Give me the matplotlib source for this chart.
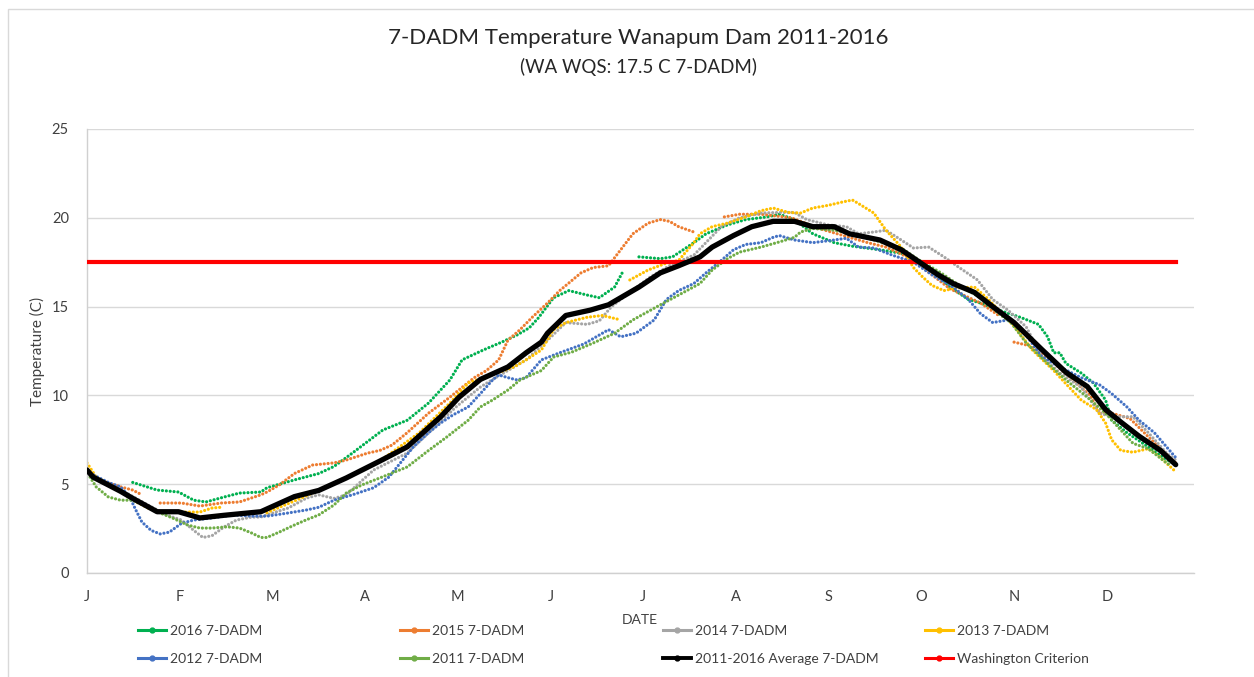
import numpy as np
import matplotlib
matplotlib.use("Agg")
import matplotlib.pyplot as plt
from matplotlib.lines import Line2D
from matplotlib.patches import Rectangle

nan = np.nan

# ---------------- data (day of year, 7-DADM temperature in C) ----------------
months = ['J', 'F', 'M', 'A', 'M', 'J', 'J', 'A', 'S', 'O', 'N', 'D']

d2016 = [15, 23, 30, 35, 39, 45, 50, 57, 59, 68, 76, 81, 87, 94, 97, 105, 112, 119, 123, 130, 136, 141, 145, 148,
         153, 158, 164, 168, 173, 176, nan, 181, 188, 192, 199, 203, 210, 216, 223, 227, 232, 238, 245, 251, 260,
         267, 273, 277, 283, 289, 293, 299, 306, 312, 315, 317, 319, 321, 326, 330, 334, 336, 341, 348, 353, 356]
v2016 = [5.1, 4.67, 4.56, 4.1, 4.0, 4.28, 4.5, 4.56, 4.8, 5.24, 5.6, 6.0, 6.75, 7.66, 8.05, 8.6, 9.57, 10.87, 12.0,
         12.56, 13.0, 13.4, 13.8, 14.36, 15.5, 15.9, 15.65, 15.5, 16.1, 17.06, nan, 17.8, 17.7, 17.8, 18.6, 19.1,
         19.6, 19.9, 20.05, 20.2, 19.9, 19.1, 18.6, 18.4, 18.2, 18.0, 17.6, 17.06, 16.1, 15.4, 15.2, 14.8, 14.4,
         14.0, 13.3, 12.4, 12.4, 11.8, 11.26, 10.7, 9.74, 8.6, 7.9, 7.1, 6.5, 6.2]

d2015 = [0, 4, 11, 15, 18, nan, 24, 31, 37, 44, 50, 57, 59, 63, 68, 74, 81, 85, 92, 96, 100, 105, 112, 119, 127,
         131, 135, 138, 142, 146, 151, 155, 162, 166, 171, 175, 179, 184, 188, 191, 194, 199, nan, 209, 214, 221,
         231, 240, 250, 256, 262, 269, 274, 283, 293, 299, nan, 304, 309, 316, 321, 329, 332, 336, 342, 349, 357]
v2015 = [5.8, 5.24, 4.85, 4.67, 4.4, nan, 3.94, 3.94, 3.77, 3.94, 4.0, 4.4, 4.56, 4.95, 5.6, 6.08, 6.2, 6.36, 6.75,
         6.9, 7.2, 7.9, 9.0, 9.9, 11.0, 11.4, 12.0, 13.1, 13.7, 14.4, 15.2, 15.9, 16.9, 17.2, 17.3, 18.2, 19.1,
         19.7, 19.9, 19.8, 19.5, 19.2, nan, 20.05, 20.2, 20.2, 20.0, 19.4, 18.9, 18.6, 18.35, 17.8, 17.2, 16.0,
         15.2, 14.5, nan, 13.0, 12.8, 12.0, 11.2, 10.0, 9.0, 9.0, 8.7, 7.5, 6.2]

d2014 = [0, 7, 13, 20, 26, 31, 35, 38, 41, 45, 49, 54, 57, 59, 66, 72, 76, 81, 85, 94, 105, 113, 121, 129, 134,
         144, 151, 157, 164, 168, 172, 178, 185, 191, 199, 208, 214, 221, 227, 232, 236, 243, 249, 253, 258, 262,
         267, 271, 276, 281, 286, 292, 297, 302, 308, 313, 319, 326, 332, 336, 343, 348, 354, 357]
v2014 = [5.6, 5.07, 4.5, 3.83, 3.27, 2.98, 2.4, 2.0, 2.1, 2.6, 2.98, 3.15, 3.15, 3.27, 3.66, 4.22, 4.4, 4.2, 4.4,
         5.8, 6.75, 8.05, 9.35, 10.47, 11.0, 12.0, 13.1, 14.1, 14.0, 14.2, 15.0, 15.8, 16.7, 17.3, 17.9, 19.5,
         20.0, 20.27, 20.3, 20.3, 19.9, 19.6, 19.5, 19.1, 19.2, 19.3, 18.75, 18.3, 18.35, 17.8, 17.2, 16.5, 15.4,
         14.8, 13.85, 12.2, 11.26, 10.47, 9.0, 8.8, 8.8, 7.9, 6.75, 6.36]

d2013 = [0, 3, 9, 15, 20, 24, 31, 37, 41, 44, nan, 59, 70, 83, 96, 109, 119, 125, 130, 135, 140, 144, 149, 153,
         157, 164, 169, 175, nan, 178, 184, 190, 194, 199, 201, 205, 210, 216, 221, 225, 230, 234, 238, 243, 248,
         251, 253, 258, 262, 267, 271, 274, 277, 281, 285, 291, 295, 299, 304, 310, 317, 322, 326, 331, 334, 336,
         339, 343, 348, 352, 357]
v2013 = [6.2, 5.4, 4.85, 4.1, 3.66, 3.38, 3.43, 3.43, 3.66, 3.7, nan, 3.4, 4.2, 5.2, 6.3, 7.9, 9.57, 10.7, 11.0,
         11.3, 11.6, 12.0, 12.56, 13.7, 14.1, 14.4, 14.5, 14.25, nan, 16.5, 17.06, 17.45, 17.6, 18.6, 19.1, 19.5,
         19.7, 20.05, 20.4, 20.55, 20.3, 20.27, 20.55, 20.7, 20.9, 21.0, 20.8, 20.27, 19.3, 18.35, 17.2, 16.67,
         16.2, 15.9, 16.05, 16.1, 15.5, 14.8, 13.9, 12.56, 11.4, 10.47, 9.74, 9.2, 8.45, 7.5, 6.9, 6.8, 7.0, 6.5,
         5.7]

d2012 = [0, 7, 11, 14, 16, 18, 21, 24, 27, 31, 35, 41, 48, 54, 59, 66, 72, 76, 81, 87, 94, 99, 107, 112, 116, 120,
         125, 129, 133, 135, 138, 141, 144, 149, 155, 163, 171, 175, 180, 186, 190, 194, 199, 203, 208, 212, 216,
         221, 225, 227, 232, 238, 245, 249, 253, 258, 264, 271, 277, 284, 289, 293, 297, 302, 306, 313, 319, 326,
         332, 336, 341, 345, 350, 354, 357]
v2012 = [5.7, 5.1, 4.85, 4.28, 3.55, 2.87, 2.4, 2.2, 2.3, 2.8, 2.98, 3.1, 3.27, 3.2, 3.2, 3.38, 3.55, 3.7, 4.1,
         4.4, 4.8, 5.4, 7.1, 7.9, 8.45, 8.9, 9.35, 10.1, 10.87, 11.15, 11.0, 10.87, 11.0, 12.0, 12.4, 12.9, 13.7,
         13.3, 13.5, 14.25, 15.4, 15.9, 16.3, 16.9, 17.6, 18.2, 18.5, 18.6, 18.9, 19.0, 18.75, 18.6, 18.75, 18.85,
         18.35, 18.3, 17.9, 17.5, 16.8, 16.1, 15.4, 14.6, 14.1, 14.25, 13.85, 12.2, 11.6, 11.0, 10.6, 10.1, 9.35,
         8.6, 7.9, 7.1, 6.5]

d2011 = [1, 3, 7, 11, 15, 20, 24, 28, 33, 37, 41, 46, 50, 54, 57, 59, 63, 68, 72, 76, 81, 85, 90, 96, 105, 112,
         118, 125, 129, 133, 138, 142, 149, 153, 159, 166, 173, 179, 188, 194, 201, 205, 210, 214, 221, 227, 232,
         234, 238, 245, 251, 258, 267, 273, 280, 286, 293, 299, 303, 308, 315, 321, 328, 334, 339, 343, 348, 354,
         355]
v2011 = [5.4, 4.85, 4.28, 4.1, 4.1, 3.7, 3.38, 3.1, 2.7, 2.53, 2.53, 2.6, 2.53, 2.25, 2.0, 2.0, 2.3, 2.7, 3.0,
         3.27, 3.83, 4.5, 4.95, 5.35, 5.97, 6.9, 7.66, 8.6, 9.35, 9.74, 10.3, 10.87, 11.4, 12.16, 12.44, 12.95,
         13.5, 14.25, 15.1, 15.65, 16.3, 17.06, 17.7, 18.07, 18.35, 18.64, 18.9, 19.2, 19.4, 19.3, 19.1, 18.75,
         18.3, 17.6, 16.9, 16.2, 15.5, 14.6, 14.1, 12.95, 11.8, 10.87, 9.9, 9.0, 8.05, 7.3, 7.0, 6.2, 6.1]

dAvg = [0, 2, 11, 15, 23, 30, 37, 45, 57, 68, 76, 85, 96, 105, 116, 122, 129, 138, 144, 149, 151, 157, 165, 171,
        177, 181, 188, 194, 201, 205, 212, 218, 225, 232, 238, 245, 250, 260, 267, 273, 279, 284, 291, 297, 304,
        313, 321, 328, 334, 339, 345, 352, 357]
vAvg = [5.8, 5.4, 4.6, 4.2, 3.45, 3.45, 3.1, 3.25, 3.45, 4.3, 4.65, 5.35, 6.3, 7.1, 8.8, 9.9, 10.9, 11.6, 12.4,
        13.0, 13.5, 14.5, 14.8, 15.1, 15.7, 16.1, 16.9, 17.3, 17.8, 18.35, 19.0, 19.5, 19.8, 19.8, 19.5, 19.5,
        19.1, 18.75, 18.2, 17.5, 16.8, 16.3, 15.8, 15.0, 14.1, 12.6, 11.3, 10.5, 9.2, 8.5, 7.7, 6.9, 6.1]

dWA = [0, 357]
vWA = [17.5, 17.5]

labels = ['2016 7-DADM', '2015 7-DADM', '2014 7-DADM', '2013 7-DADM',
          '2012 7-DADM', '2011 7-DADM', '2011-2016 Average 7-DADM', 'Washington Criterion']
colors = ['#00B050', '#ED7D31', '#A5A5A5', '#FFC000', '#4472C4', '#70AD47', '#000000', '#FF0000']

# ---------------- figure ----------------
W, H = 1254, 677
plt.rcParams['font.family'] = ['Lato', 'DejaVu Sans']
fig = plt.figure(figsize=(W / 100, H / 100), dpi=100)
ax = fig.add_axes([87 / W, 1 - 573 / H, (1194 - 87) / W, (573 - 129) / H])

years = [(d2016, v2016), (d2015, v2015), (d2014, v2014), (d2013, v2013), (d2012, v2012), (d2011, v2011)]
for i, (d, v) in enumerate(years):
    ax.plot(d, v, color=colors[i], lw=2.3, linestyle=(0, (0.01, 1.2)), dash_capstyle='round',
            solid_capstyle='round', zorder=2 + i * 0.1)
ax.plot(dWA, vWA, color=colors[7], lw=3.0, zorder=3)
ax.plot(dAvg, vAvg, color=colors[6], lw=3.8, solid_capstyle='round', zorder=4)

ax.set_xlim(0, 363)
ax.set_ylim(0, 25)
ax.set_yticks([0, 5, 10, 15, 20, 25])
ax.set_xticks(np.arange(len(months)) * 363 / 11.94)
ax.set_xticklabels(months)
ax.tick_params(axis='both', length=0, labelsize=10.5, colors='#404040')
ax.tick_params(axis='y', pad=13)
ax.tick_params(axis='x', pad=12)
ax.yaxis.grid(True, color='#D9D9D9', lw=1)
ax.set_axisbelow(True)
for s in ['top', 'right']:
    ax.spines[s].set_visible(False)
for s in ['left', 'bottom']:
    ax.spines[s].set_color('#D0D0D0')
    ax.spines[s].set_linewidth(1)

ax.set_ylabel('Temperature (C)', fontsize=11, color='#404040', labelpad=5)
fig.text(640 / W, 1 - 620 / H, 'DATE', ha='center', va='center', fontsize=10, color='#404040')

fig.text(638 / W, 1 - 38 / H, '7-DADM Temperature Wanapum Dam 2011-2016', ha='center', va='center',
         fontsize=16, color='#262626')
fig.text(638 / W, 1 - 67 / H, '(WA WQS: 17.5 C 7-DADM)', ha='center', va='center',
         fontsize=13.5, color='#262626')

# legend, two rows of four equally spaced entries
xs = [138, 400, 663, 925]
ys = [631, 659]
for k, (lab, col) in enumerate(zip(labels, colors)):
    r, c = divmod(k, 4)
    h = Line2D([0], [0], color=col, lw=2.2 if k != 6 else 2.8, marker='o', markersize=3.5)
    fig.legend(handles=[h], labels=[lab], loc='center left',
               bbox_to_anchor=(xs[c] / W, 1 - ys[r] / H), frameon=False, fontsize=10,
               handlelength=2.0, handletextpad=0.3, borderpad=0, borderaxespad=0, labelcolor='#404040')

fig.patches.append(Rectangle((8 / W, -0.1), 1.2, 1 - 9 / H + 0.1, transform=fig.transFigure,
                             fill=False, edgecolor='#D9D9D9', lw=1))

fig.savefig('out.png', dpi=100, facecolor='white')
